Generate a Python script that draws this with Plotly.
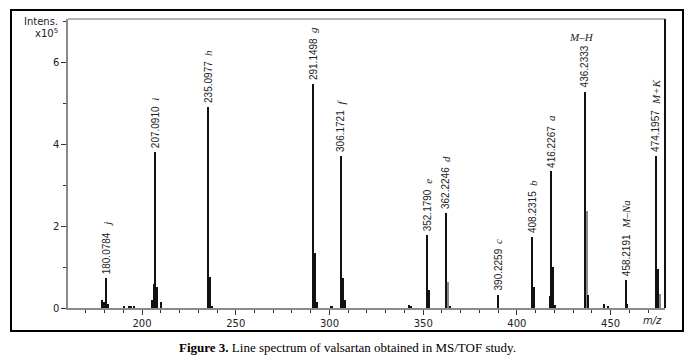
import plotly.graph_objects as go

# ---- data (intensity in units of 10^5) ----
peak_mz = [180.9, 207.09, 235.10, 291.15, 306.17, 352.18, 362.22, 390.23, 408.23, 418.4, 436.23, 458.22, 474.2]
peak_int = [0.73, 3.81, 4.90, 5.46, 3.71, 1.78, 2.32, 0.32, 1.74, 3.33, 5.28, 0.68, 3.71]
peak_text = ["180.0784", "207.0910", "235.0977", "291.1498", "306.1721", "352.1790", "362.2246",
             "390.2259", "408.2315", "416.2267", "436.2333", "458.2191", "474.1957"]
peak_tag = ["j", "i", "h", "g", "f", "e", "d", "c", "b", "a", "", "M\u2013Na", "M+K"]

minor_mz = [178.9, 179.6, 181.9, 190.5, 193.0, 194.5, 196.0, 205.6, 206.4, 208.2, 210.1,
            236.4, 237.2, 292.2, 293.7, 300.8, 301.6, 306.8, 307.6, 308.3, 342.7, 343.5,
            353.3, 363.2, 364.2, 409.2, 417.6, 419.2, 420.3, 437.3, 438.1, 446.5, 448.8,
            459.1, 475.2, 476.4]
minor_int = [0.20, 0.15, 0.10, 0.04, 0.05, 0.04, 0.04, 0.20, 0.59, 0.52, 0.15,
             0.76, 0.05, 1.34, 0.15, 0.06, 0.04, 0.44, 0.73, 0.20, 0.08, 0.05,
             0.44, 0.63, 0.05, 0.52, 0.30, 1.01, 0.08, 2.36, 0.32, 0.10, 0.06,
             0.10, 0.95, 0.34]
minor_grey = [False, False, False, False, False, False, False, False, False, False, False,
              False, False, False, False, False, False, False, False, False, False, False,
              False, True, False, False, False, False, False, True, False, False, False,
              False, False, True]

x_ticks = [200, 250, 300, 350, 400, 450]
y_ticks = [0, 2, 4, 6]

# ---- layout geometry (pixels) ----
W, H = 695, 361
L, R, T, B = 68, 665, 19, 308
FRAME = (10, 684, 9, 332)  # outer figure frame box: left, right, top, bottom (px)

def px(x):
    return x / W

def py(y):
    return (H - y) / H

fig = go.Figure()

fig.add_trace(go.Bar(
    x=minor_mz, y=minor_int, width=0.8,
    marker=dict(color=["#8a8a8a" if g else "#111" for g in minor_grey], line=dict(width=0)),
    showlegend=False, hoverinfo="x+y"))
fig.add_trace(go.Bar(
    x=peak_mz, y=peak_int, width=0.85,
    marker=dict(color="#111", line=dict(width=0)),
    showlegend=False, hoverinfo="x+y"))

label_font = dict(family="Liberation Sans Narrow, Arial Narrow, Liberation Sans, sans-serif", size=10, color="#222")
serif = "Liberation Serif, Times New Roman, serif"
tag_font = dict(family=serif, size=11, color="#222")
for xm, yi, t, tag in zip(peak_mz, peak_int, peak_text, peak_tag):
    fig.add_annotation(x=xm, y=yi, text=t, textangle=-90, showarrow=False,
                       xanchor="center", yanchor="bottom", yshift=2, font=label_font)
    if tag:
        fig.add_annotation(x=xm, y=yi, text="<i>%s</i>" % tag, textangle=-90, showarrow=False,
                           xanchor="center", yanchor="bottom", yshift=49, font=tag_font)

# M-H horizontal tag
fig.add_annotation(x=peak_mz[10], y=py(37), yref="paper", text="<i>M\u2013H</i>", showarrow=False,
                   xshift=-3, font=dict(family=serif, size=11, color="#222"),
                   xanchor="center", yanchor="middle")

# y-axis title
fig.add_annotation(x=px(60), y=py(21), xref="paper", yref="paper", text="Intens.",
                   showarrow=False, xanchor="right", yanchor="middle",
                   font=dict(family="DejaVu Sans, sans-serif", size=10, color="#222"))
fig.add_annotation(x=px(60), y=py(33), xref="paper", yref="paper", text="x10<sup>5</sup>",
                   showarrow=False, xanchor="right", yanchor="middle",
                   font=dict(family="DejaVu Sans, sans-serif", size=10, color="#222"))
# m/z label
fig.add_annotation(x=px(652), y=py(320), xref="paper", yref="paper", text="<i>m/z</i>",
                   showarrow=False, xanchor="center", yanchor="middle",
                   font=dict(family="DejaVu Sans, sans-serif", size=10, color="#222"))
# caption
fig.add_annotation(x=px(347), y=py(347), xref="paper", yref="paper",
                   text="<b>Figure 3.</b> Line spectrum of valsartan obtained in MS/TOF study.",
                   showarrow=False, xanchor="center", yanchor="middle",
                   font=dict(family=serif, size=13, color="#000"))

# plot box lines (top grey, right dark) and outer frame
fl, fr, ft, fb = FRAME
fig.update_layout(shapes=[
    dict(type="line", xref="paper", yref="paper", x0=px(L), x1=px(R), y0=py(T), y1=py(T),
         line=dict(color="#9a9a9a", width=1.5)),
    dict(type="line", xref="paper", yref="paper", x0=px(R), x1=px(R), y0=py(B), y1=py(T),
         line=dict(color="#111", width=2)),
    dict(type="rect", xref="paper", yref="paper", x0=px(fl + 1), x1=px(fr - 1),
         y0=py(fb - 1), y1=py(ft + 1), line=dict(color="#000", width=2)),
])

fig.update_layout(
    width=W, height=H, autosize=False,
    margin=dict(l=0, r=0, t=0, b=0, pad=0),
    paper_bgcolor="white", plot_bgcolor="white",
    bargap=0, barmode="overlay",
    xaxis=dict(domain=[px(L), px(R)], range=[160.5, 479], tickvals=x_ticks, ticks="outside",
               automargin=False,
               ticklen=5, tickwidth=1, tickcolor="#333", showgrid=False, zeroline=False,
               showline=True, linecolor="#8a8a8a", linewidth=1.5,
               tickfont=dict(family="DejaVu Sans, sans-serif", size=10, color="#222"),
               minor=dict(dtick=10, tick0=0, ticks="outside", ticklen=3, tickcolor="#333", showgrid=False)),
    yaxis=dict(domain=[py(B), py(T)], range=[0, 7.05], tickvals=y_ticks, ticks="outside",
               automargin=False,
               ticklen=5, tickwidth=1, tickcolor="#333", showgrid=False, zeroline=False,
               showline=True, linecolor="#8a8a8a", linewidth=1.5,
               tickfont=dict(family="DejaVu Sans, sans-serif", size=10, color="#222"),
               minor=dict(dtick=1, tick0=0, ticks="outside", ticklen=3, tickcolor="#333", showgrid=False)),
)

# page setup: no body margin, plus the outer figure border as a page overlay
post = (
    "document.body.style.margin='0';"
    "var f=document.createElement('div');"
    "f.style.cssText='position:absolute;left:%dpx;top:%dpx;width:%dpx;height:%dpx;"
    "border:2px solid #000;box-sizing:border-box;pointer-events:none;z-index:1000;';"
    "document.body.appendChild(f);" % (fl, ft, fr - fl, fb - ft)
)

fig.write_html("out.html", config={"displayModeBar": False}, post_script=post)
